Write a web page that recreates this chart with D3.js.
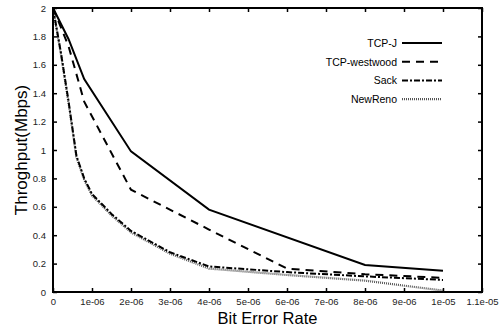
<!DOCTYPE html>
<html>
<head>
<meta charset="utf-8">
<script src="https://cdn.jsdelivr.net/npm/d3@7"></script>
<style>
  html, body { margin: 0; padding: 0; background: #fff; }
  svg { display: block; font-family: "Liberation Sans", Arial, sans-serif; }
</style>
</head>
<body>
<svg id="chart" width="504" height="326"></svg>
<script>
// Throughput (Mbps) versus bit error rate for four TCP variants
const tcpJ = [
  [0, 2.0], [4e-7, 1.78], [8e-7, 1.50], [2e-6, 0.99],
  [4e-6, 0.58], [8e-6, 0.19], [1e-5, 0.15]
];
const westwood = [
  [0, 2.0], [4e-7, 1.73], [8e-7, 1.34], [2e-6, 0.72],
  [4e-6, 0.44], [6e-6, 0.165], [8e-6, 0.125], [1e-5, 0.10]
];
const sack = [
  [0, 2.0], [2e-7, 1.69], [4e-7, 1.34], [6e-7, 0.96], [8e-7, 0.80],
  [1e-6, 0.69], [1.5e-6, 0.55], [2e-6, 0.43], [3e-6, 0.28],
  [4e-6, 0.18], [6e-6, 0.14], [8e-6, 0.11], [1e-5, 0.085]
];
const newReno = [
  [0, 2.0], [2e-7, 1.68], [4e-7, 1.33], [6e-7, 0.95], [8e-7, 0.79],
  [1e-6, 0.68], [1.5e-6, 0.54], [2e-6, 0.42], [3e-6, 0.27],
  [4e-6, 0.165], [6e-6, 0.12], [8e-6, 0.08], [1e-5, 0.01]
];
const xTicks = [0, 1e-6, 2e-6, 3e-6, 4e-6, 5e-6, 6e-6, 7e-6, 8e-6, 9e-6, 1e-5, 1.1e-5];
const xTickLabels = ["0", "1e-06", "2e-06", "3e-06", "4e-06", "5e-06", "6e-06",
                     "7e-06", "8e-06", "9e-06", "1e-05", "1.1e-05"];
const yTicks = [0, 0.2, 0.4, 0.6, 0.8, 1, 1.2, 1.4, 1.6, 1.8, 2];
const yTickLabels = ["0", "0.2", "0.4", "0.6", "0.8", "1", "1.2", "1.4", "1.6", "1.8", "2"];
const seriesNames = ["TCP-J", "TCP-westwood", "Sack", "NewReno"];

const svg = d3.select("#chart");
const plotLeft = 53, plotRight = 482, plotTop = 8, plotBottom = 292;

const x = d3.scaleLinear().domain([0, 1.1e-5]).range([plotLeft, plotRight]);
const y = d3.scaleLinear().domain([0, 2]).range([plotBottom, plotTop]);

const styles = [
  { data: tcpJ,     stroke: "#000", width: 2,   dash: null },
  { data: westwood, stroke: "#000", width: 2,   dash: "8,6" },
  { data: sack,     stroke: "#000", width: 2,   dash: "6,2,2,2" },
  { data: newReno,  stroke: "#555", width: 2.2, dash: "1,1" }
];

// Curves
const line = d3.line().x(d => x(d[0])).y(d => y(d[1]));
styles.slice().reverse().forEach(s => {
  svg.append("path")
    .datum(s.data)
    .attr("d", line)
    .attr("fill", "none")
    .attr("stroke", s.stroke)
    .attr("stroke-width", s.width)
    .attr("stroke-dasharray", s.dash)
    .attr("stroke-linejoin", "miter");
});

// Axes with inward ticks, mirrored on the opposite sides
const tickLen = 4;
const xb = svg.append("g").attr("transform", `translate(0,${plotBottom})`)
  .call(d3.axisBottom(x).tickValues(xTicks).tickSizeInner(-tickLen).tickSizeOuter(0)
    .tickPadding(6).tickFormat((d, i) => xTickLabels[i]));
const xt = svg.append("g").attr("transform", `translate(0,${plotTop})`)
  .call(d3.axisTop(x).tickValues(xTicks).tickSizeInner(-tickLen).tickSizeOuter(0)
    .tickFormat(""));
const yl = svg.append("g").attr("transform", `translate(${plotLeft},0)`)
  .call(d3.axisLeft(y).tickValues(yTicks).tickSizeInner(-tickLen).tickSizeOuter(0)
    .tickPadding(7).tickFormat((d, i) => yTickLabels[i]));
const yr = svg.append("g").attr("transform", `translate(${plotRight},0)`)
  .call(d3.axisRight(y).tickValues(yTicks).tickSizeInner(-tickLen).tickSizeOuter(0)
    .tickFormat(""));

[xb, xt, yl, yr].forEach(g => {
  g.select(".domain").remove();
  g.selectAll(".tick line").attr("stroke", "#000").attr("stroke-width", 1.5);
  g.selectAll(".tick text").attr("fill", "#222").attr("font-size", 9.5)
    .attr("font-family", "Liberation Sans, Arial, sans-serif");
});

// Frame
svg.append("rect")
  .attr("x", plotLeft).attr("y", plotTop)
  .attr("width", plotRight - plotLeft).attr("height", plotBottom - plotTop)
  .attr("fill", "none").attr("stroke", "#000").attr("stroke-width", 2);

// Axis titles
svg.append("text")
  .attr("x", (plotLeft + plotRight) / 2).attr("y", 323.5)
  .attr("text-anchor", "middle").attr("font-size", 16.5).attr("fill", "#000")
  .text("Bit Error Rate");
svg.append("text")
  .attr("transform", `translate(27,${(plotTop + plotBottom) / 2}) rotate(-90)`)
  .attr("text-anchor", "middle").attr("font-size", 17).attr("fill", "#000")
  .text("Throghput(Mbps)");

// Legend
const legendY0 = 43, legendStep = 18.7;
styles.forEach((s, i) => {
  const ly = legendY0 + i * legendStep;
  svg.append("text")
    .attr("x", 397).attr("y", ly + 4)
    .attr("text-anchor", "end").attr("font-size", 10.5).attr("fill", "#000")
    .text(seriesNames[i]);
  svg.append("line")
    .attr("x1", 402).attr("x2", 442).attr("y1", ly).attr("y2", ly)
    .attr("stroke", s.stroke).attr("stroke-width", s.width)
    .attr("stroke-dasharray", s.dash);
});
</script>
</body>
</html>
